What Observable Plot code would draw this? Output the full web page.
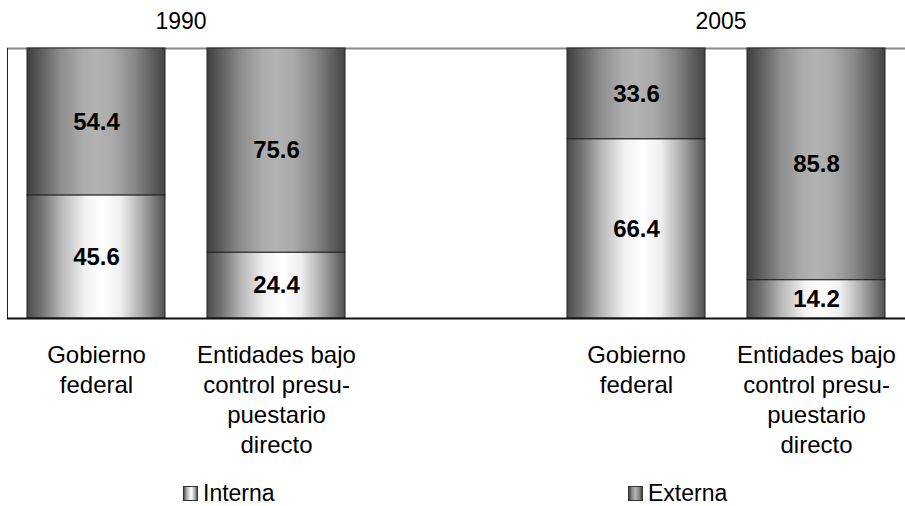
<!DOCTYPE html>
<html><head><meta charset="utf-8">
<script src="https://cdn.jsdelivr.net/npm/d3@7"></script>
<script src="https://cdn.jsdelivr.net/npm/@observablehq/plot@0.6"></script>
<style>
body{margin:0;background:#fff;font-family:"Liberation Sans",Arial,sans-serif;}
#chart{width:905px;}
#chart svg{display:block;}
.legend{position:relative;width:905px;height:36px;}
.item{position:absolute;top:12px;display:flex;align-items:center;font-size:23px;line-height:23px;height:23px;color:#000;}
.sw{width:13px;height:13px;border:1px solid #333;margin-right:5px;}
</style></head><body><div id="chart"></div>
<script>
// ---- data ----
const years = ["1990", "2005"];
const categories = ["Gobierno federal", "Entidades bajo control presupuestario directo"];
const categoryLabels = ["Gobierno\nfederal", "Entidades bajo\ncontrol presu-\npuestario\ndirecto"];
const series = ["Interna", "Externa"];
// order: 1990 Gobierno, 1990 Entidades, 2005 Gobierno, 2005 Entidades
const interna = [45.6, 24.4, 66.4, 14.2];
const externa = [54.4, 75.6, 33.6, 85.8];

// ---- build table ----
const slotKey = (y, c) => y + "|" + c;
const spacer = "·";
const slots = [slotKey(years[0], categories[0]), slotKey(years[0], categories[1]), spacer,
               slotKey(years[1], categories[0]), slotKey(years[1], categories[1])];
const rows = [];
let k = 0;
for (const yr of years) for (const c of categories) {
  rows.push({slot: slotKey(yr, c), serie: series[0], value: interna[k]});
  rows.push({slot: slotKey(yr, c), serie: series[1], value: externa[k]});
  k++;
}
const labelOf = s => { const i = categories.indexOf(s.split("|")[1]); return i < 0 ? "" : categoryLabels[i]; };

const gradStops = {
  gInt: [[0,"#4a4a4a"],[0.1,"#707070"],[0.25,"#b8b8b8"],[0.42,"#f2f2f2"],[0.55,"#ffffff"],[0.68,"#eeeeee"],[0.82,"#b0b0b0"],[0.93,"#777777"],[1,"#4f4f4f"]],
  gExt: [[0,"#3f3f3f"],[0.1,"#5e5e5e"],[0.25,"#8e8e8e"],[0.4,"#ababab"],[0.5,"#b3b3b3"],[0.62,"#aaaaaa"],[0.78,"#888888"],[0.92,"#5c5c5c"],[1,"#444444"]]
};
function defs() {
  const d = d3.create("svg:defs");
  for (const id in gradStops) {
    const g = d.append("linearGradient").attr("id", id).attr("x1", 0).attr("x2", 1).attr("y1", 0).attr("y2", 0);
    for (const [o, c] of gradStops[id]) g.append("stop").attr("offset", o).attr("stop-color", c);
  }
  return d.node();
}
function leftLine(index, scales, values, dim) {
  return d3.create("svg:line")
    .attr("x1", dim.marginLeft + 0.5).attr("x2", dim.marginLeft + 0.5)
    .attr("y1", dim.marginTop).attr("y2", dim.height - dim.marginBottom)
    .attr("stroke", "#222").attr("stroke-width", 1).node();
}
function yearLabels(index, scales, values, dim) {
  const x = scales.x;
  const bw = typeof x.bandwidth === "function" ? x.bandwidth() : (x.bandwidth || 0);
  const g = d3.create("svg:g").attr("font-size", 23).attr("text-anchor", "middle").attr("fill", "#000");
  for (const yr of years) {
    const xs = categories.map(c => x(slotKey(yr, c)));
    g.append("text").attr("x", (d3.min(xs) + d3.max(xs) + bw) / 2 - 5)
      .attr("y", dim.marginTop - 19).text(yr);
  }
  return g.node();
}

const chart = Plot.plot({
  width: 905, height: 470,
  marginLeft: 7, marginRight: 0, marginTop: 48, marginBottom: 152,
  style: {fontFamily: "'Liberation Sans', Arial, sans-serif", background: "#fff", color: "#000"},
  x: {domain: slots, paddingInner: 0.2333, paddingOuter: 0.111, axis: null},
  y: {domain: [0, 100], axis: null},
  color: {domain: series, range: ["url(#gInt)", "url(#gExt)"]},
  marks: [
    defs,
    Plot.ruleY([100], {stroke: "#888", strokeWidth: 2}),
    leftLine,
    Plot.barY(rows, Plot.stackY({x: "slot", y: "value", fill: "serie", stroke: "#222", strokeWidth: 1})),
    Plot.text(rows, Plot.stackY({x: "slot", y: "value", z: "serie", text: d => d.value.toFixed(1),
      fontSize: 24, fontWeight: "bold", fill: "#000"})),
    Plot.ruleY([0], {stroke: "#111", strokeWidth: 2}),
    Plot.axisX({tickSize: 0, tickPadding: 23, fontSize: 24, lineHeight: 1.25, tickFormat: labelOf, label: null}),
    yearLabels
  ]
});
document.getElementById("chart").appendChild(chart);

// ---- legend ----
const legend = document.createElement("div");
legend.className = "legend";
const legendLeft = [183, 628];
const swatch = {Interna: "linear-gradient(to right,#555,#bbb 25%,#fff 55%,#bbb 80%,#555)",
                Externa: "linear-gradient(to right,#444,#8e8e8e 25%,#b3b3b3 50%,#888 78%,#444)"};
series.forEach((s, i) => {
  const it = document.createElement("div");
  it.className = "item";
  it.style.left = legendLeft[i] + "px";
  const sw = document.createElement("span");
  sw.className = "sw";
  sw.style.background = swatch[s];
  it.appendChild(sw);
  it.appendChild(document.createTextNode(s));
  legend.appendChild(it);
});
document.getElementById("chart").appendChild(legend);
</script></body></html>
